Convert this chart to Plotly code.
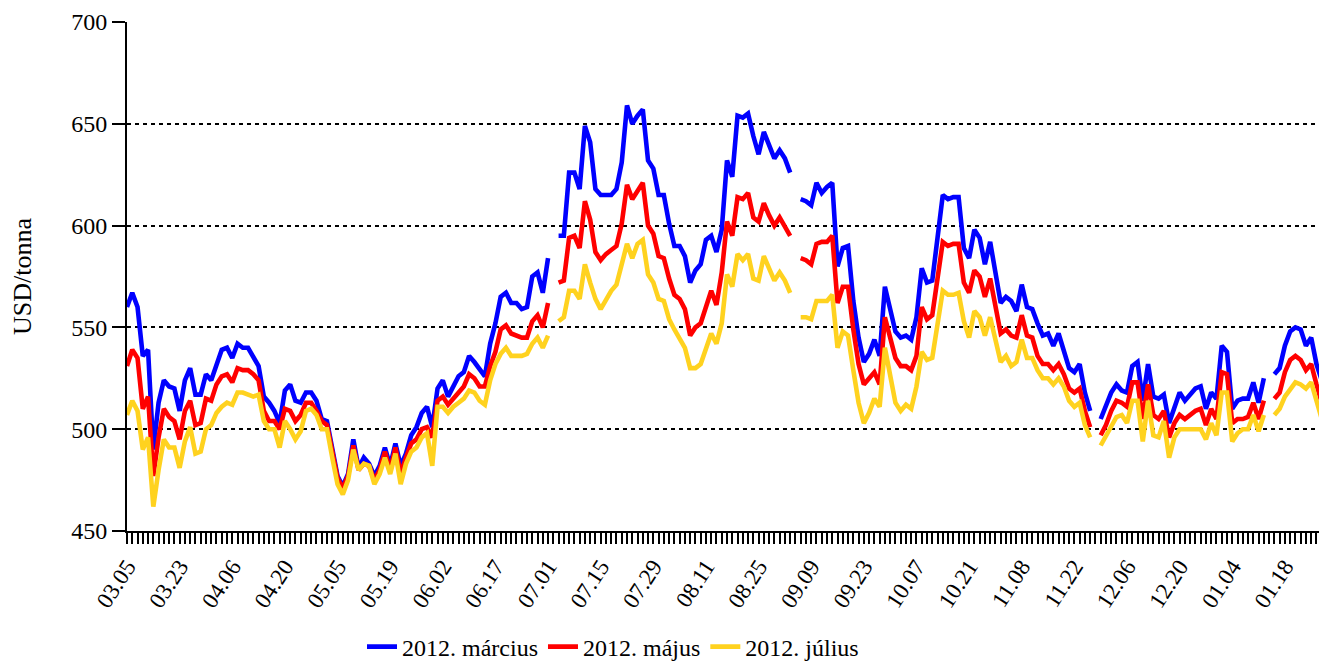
import plotly.graph_objects as go

tick_labels = ["03.05", "03.23", "04.06", "04.20", "05.05", "05.19", "06.02", "06.17",
               "07.01", "07.15", "07.29", "08.11", "08.25", "09.09", "09.23", "10.07",
               "10.21", "11.08", "11.22", "12.06", "12.20", "01.04", "01.18"]
label_every = 10

marcius = [
    560, 567, 560, 536, 539, 490, 513, 524, 521, 520,
    509, 524, 530, 517, 517, 527, 524, 532, 539, 540,
    535, 542, 540, 540, 536, 531, 516, 513, 509, 503,
    519, 522, 514, 513, 518, 518, 514, 505, 504, 490,
    477, 472, 478, 495, 481, 486, 483, 477, 482, 491,
    482, 493, 482, 488, 497, 501, 508, 511, 501, 520,
    524, 516, 521, 526, 528, 536, 533, 529, 526, 542,
    552, 565, 567, 562, 562, 559, 560, 575, 577, 567,
    584, None, 595, 595, 626, 626, 618, 649, 641, 618,
    615, 615, 615, 618, 631, 659, 650, 654, 657, 632,
    628, 615, 615, 601, 590, 590, 585, 572, 578, 581,
    593, 595, 587, 598, 632, 624, 654, 653, 655, 644,
    635, 646, 639, 633, 637, 633, 626, None, 613, 612,
    610, 621, 616, 619, 621, 580, 589, 590, 563, 545,
    533, 537, 544, 536, 570, 558, 548, 545, 546, 544,
    555, 579, 572, 573, 595, 615, 613, 614, 614, 589,
    584, 598, 594, 581, 592, 577, 562, 565, 563, 558,
    571, 560, 559, 552, 546, 547, 541, 547, 539, 530,
    528, 532, 518, 509, None, 505, 511, 518, 522, 519,
    518, 531, 533, 514, 532, 516, 515, 517, 503, 511,
    518, 514, 517, 520, 521, 510, 518, 515, 541, 538,
    510, 514, 515, 515, 523, 513, 525, None, 527, 530,
    541, 548, 550, 549, 541, 545, 532, 524, 521,
]

majus = [
    531, 539, 535, 510, 516, 477, 496, 510, 506, 504,
    495, 509, 514, 502, 503, 515, 514, 522, 526, 527,
    523, 530, 529, 529, 527, 524, 509, 504, 504, 500,
    510, 509, 504, 507, 513, 513, 509, 504, 502, 489,
    476, 471, 477, 492, 480, 483, 482, 475, 480, 489,
    480, 491, 478, 486, 493, 495, 500, 501, 496, 514,
    516, 512, 515, 518, 521, 527, 525, 521, 521, 531,
    538, 549, 551, 547, 546, 545, 545, 553, 556, 550,
    562, None, 572, 573, 594, 595, 589, 612, 603, 587,
    583, 586, 588, 590, 601, 620, 613, 617, 621, 600,
    596, 585, 584, 574, 566, 564, 559, 546, 550, 552,
    560, 568, 561, 577, 602, 595, 614, 613, 616, 604,
    602, 611, 605, 600, 604, 600, 595, None, 584, 583,
    581, 591, 592, 592, 595, 562, 570, 570, 549, 532,
    522, 525, 528, 522, 555, 545, 535, 531, 531, 529,
    536, 560, 554, 556, 573, 592, 590, 591, 591, 572,
    567, 578, 575, 565, 574, 560, 547, 549, 546, 545,
    556, 546, 545, 536, 532, 532, 529, 532, 527, 520,
    518, 520, 509, 501, None, 497, 502, 509, 514, 513,
    511, 523, 523, 505, 522, 507, 505, 509, 496, 503,
    507, 505, 507, 509, 510, 502, 510, 505, 528, 527,
    503, 505, 505, 506, 513, 505, 514, None, 515, 518,
    528, 534, 536, 534, 529, 532, 522, 513, 509,
]

julius = [
    507, 514, 509, 490, 496, 462, 480, 495, 491, 491,
    481, 494, 501, 488, 489, 500, 502, 508, 511, 513,
    512, 518, 518, 517, 516, 517, 504, 500, 500, 491,
    504, 500, 495, 499, 509, 510, 507, 500, 500, 486,
    473, 468, 475, 490, 480, 483, 482, 473, 478, 486,
    478, 488, 473, 483, 489, 491, 496, 498, 482, 511,
    511, 508, 511, 513, 515, 519, 518, 514, 512, 524,
    532, 537, 540, 536, 536, 536, 537, 542, 545, 540,
    546, None, 553, 555, 568, 568, 564, 581, 572, 564,
    559, 564, 568, 571, 580, 591, 584, 591, 593, 576,
    572, 564, 563, 554, 549, 545, 540, 530, 530, 532,
    540, 547, 542, 552, 576, 570, 586, 583, 586, 574,
    573, 585, 579, 573, 577, 573, 567, None, 555, 555,
    554, 563, 563, 563, 566, 540, 548, 546, 529, 513,
    503, 508, 515, 511, 540, 526, 513, 509, 512, 510,
    521, 538, 534, 535, 552, 568, 566, 566, 567, 553,
    545, 558, 555, 546, 555, 545, 533, 536, 531, 533,
    544, 535, 535, 529, 525, 525, 522, 525, 521, 514,
    511, 513, 502, 496, None, 492, 497, 502, 506, 507,
    503, 514, 514, 494, 514, 497, 496, 504, 486, 496,
    500, 500, 500, 500, 500, 495, 503, 497, 518, 518,
    494, 498, 500, 500, 507, 499, 507, None, 507, 510,
    516, 520, 523, 522, 520, 523, 513, 505, 500,
]

series_names = ["2012. március", "2012. május", "2012. július"]
series_values = [marcius, majus, julius]
series_colors = ["#0000FF", "#FF0000", "#FFD21F"]

n = len(marcius)
x = list(range(n))
tickvals = x
ticktext = []
for i in x:
    if i % label_every == 0 and i // label_every < len(tick_labels):
        ticktext.append(tick_labels[i // label_every])
    else:
        ticktext.append("")

FONT = "Liberation Serif"

fig = go.Figure()
for name, vals, col in zip(series_names, series_values, series_colors):
    fig.add_trace(go.Scatter(
        x=x, y=vals, name=name, mode="lines",
        line=dict(color=col, width=4.6),
        connectgaps=False,
    ))

# the page body has an 8px margin: the figure starts at (8, 8); the overflow is cropped
H = 700
fig.update_layout(
    width=1327, height=H,
    margin=dict(l=119, r=8, t=14, b=H + 8 - 531),
    paper_bgcolor="white", plot_bgcolor="white",
    font=dict(family=FONT, size=23, color="black"),
    showlegend=True,
    legend=dict(orientation="h", x=0.405, xanchor="center", y=-0.228, yanchor="middle",
                font=dict(family=FONT, size=24, color="black"),
                tracegroupgap=0, bgcolor="rgba(0,0,0,0)"),
)

fig.update_xaxes(
    range=[0, n - 1], automargin=False,
    tickmode="array", tickvals=tickvals, ticktext=ticktext,
    tickangle=-57,
    ticks="outside", ticklen=11, tickwidth=1.5, tickcolor="black",
    showline=True, linecolor="black", linewidth=2,
    showgrid=False, zeroline=False,
    tickfont=dict(family=FONT, size=23, color="black"),
)

fig.update_yaxes(
    range=[450, 700], dtick=50, tick0=450, automargin=False,
    ticks="outside", ticklen=13, tickwidth=2, tickcolor="black",
    showline=True, linecolor="black", linewidth=2,
    showgrid=True, gridcolor="black", gridwidth=2, griddash="4px,4px",
    zeroline=False,
    tickfont=dict(family=FONT, size=24, color="black"),
    title=dict(text="USD/tonna", font=dict(family=FONT, size=26, color="black"), standoff=36),
)

fig.write_html("out.html")
